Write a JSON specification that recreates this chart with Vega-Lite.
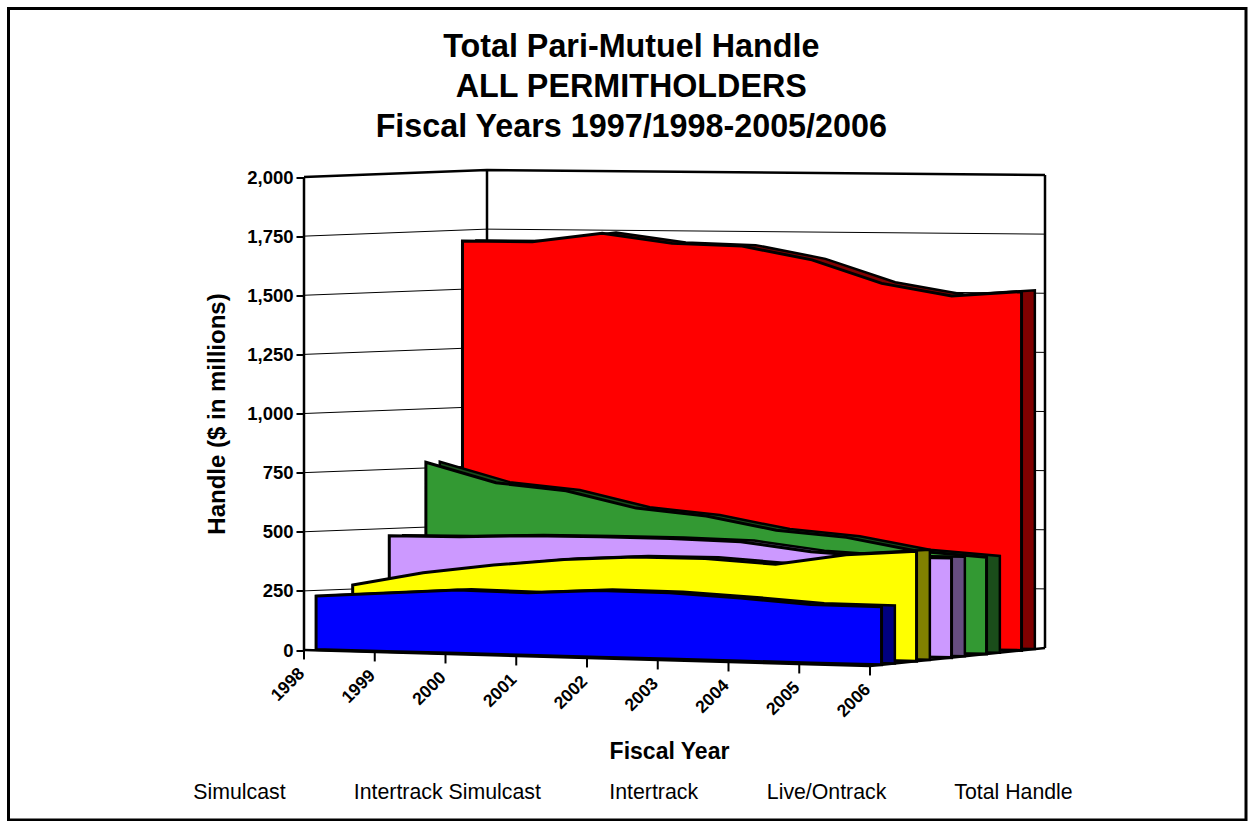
{"$schema":"https://vega.github.io/schema/vega-lite/v6.json","autosize":{"type":"none"},"padding":{"left":8.5,"top":8.5,"right":2,"bottom":1},"width":1237.5,"height":811.5,"background":"white","config":{"font":"Liberation Sans","view":{"stroke":"black","strokeWidth":3}},"title":{"text":["Total Pari-Mutuel Handle","ALL PERMITHOLDERS","Fiscal Years 1997/1998-2005/2006"],"font":"Liberation Sans","fontSize":32.3,"fontWeight":"bold","color":"black","anchor":"middle","frame":"group","lineHeight":40,"dx":4,"offset":-135},"data":{"values":[
{"series":"Total Handle","year":1998,"handle":1704},{"series":"Total Handle","year":1999,"handle":1704},{"series":"Total Handle","year":2000,"handle":1743},{"series":"Total Handle","year":2001,"handle":1704},{"series":"Total Handle","year":2002,"handle":1696},{"series":"Total Handle","year":2003,"handle":1641},{"series":"Total Handle","year":2004,"handle":1545},{"series":"Total Handle","year":2005,"handle":1495},{"series":"Total Handle","year":2006,"handle":1517},
{"series":"Live/Ontrack","year":1998,"handle":774},{"series":"Live/Ontrack","year":1999,"handle":692},{"series":"Live/Ontrack","year":2000,"handle":663},{"series":"Live/Ontrack","year":2001,"handle":594},{"series":"Live/Ontrack","year":2002,"handle":565},{"series":"Live/Ontrack","year":2003,"handle":510},{"series":"Live/Ontrack","year":2004,"handle":484},{"series":"Live/Ontrack","year":2005,"handle":431},{"series":"Live/Ontrack","year":2006,"handle":409},
{"series":"Intertrack","year":1998,"handle":469},{"series":"Intertrack","year":1999,"handle":471},{"series":"Intertrack","year":2000,"handle":481},{"series":"Intertrack","year":2001,"handle":482},{"series":"Intertrack","year":2002,"handle":481},{"series":"Intertrack","year":2003,"handle":473},{"series":"Intertrack","year":2004,"handle":436},{"series":"Intertrack","year":2005,"handle":420},{"series":"Intertrack","year":2006,"handle":421},
{"series":"Intertrack Simulcast","year":1998,"handle":267},{"series":"Intertrack Simulcast","year":1999,"handle":326},{"series":"Intertrack Simulcast","year":2000,"handle":365},{"series":"Intertrack Simulcast","year":2001,"handle":396},{"series":"Intertrack Simulcast","year":2002,"handle":413},{"series":"Intertrack Simulcast","year":2003,"handle":414},{"series":"Intertrack Simulcast","year":2004,"handle":396},{"series":"Intertrack Simulcast","year":2005,"handle":443},{"series":"Intertrack Simulcast","year":2006,"handle":465},
{"series":"Simulcast","year":1998,"handle":226},{"series":"Simulcast","year":1999,"handle":247},{"series":"Simulcast","year":2000,"handle":268},{"series":"Simulcast","year":2001,"handle":264},{"series":"Simulcast","year":2002,"handle":282},{"series":"Simulcast","year":2003,"handle":280},{"series":"Simulcast","year":2004,"handle":266},{"series":"Simulcast","year":2005,"handle":247},{"series":"Simulcast","year":2006,"handle":245},
{"edge":"grid250","year":1998,"depth":0,"handle":250},{"edge":"grid250","year":1998,"depth":5,"handle":250},{"edge":"grid250","year":2006,"depth":5,"handle":250},
{"edge":"grid500","year":1998,"depth":0,"handle":500},{"edge":"grid500","year":1998,"depth":5,"handle":500},{"edge":"grid500","year":2006,"depth":5,"handle":500},
{"edge":"grid750","year":1998,"depth":0,"handle":750},{"edge":"grid750","year":1998,"depth":5,"handle":750},{"edge":"grid750","year":2006,"depth":5,"handle":750},
{"edge":"grid1000","year":1998,"depth":0,"handle":1000},{"edge":"grid1000","year":1998,"depth":5,"handle":1000},{"edge":"grid1000","year":2006,"depth":5,"handle":1000},
{"edge":"grid1250","year":1998,"depth":0,"handle":1250},{"edge":"grid1250","year":1998,"depth":5,"handle":1250},{"edge":"grid1250","year":2006,"depth":5,"handle":1250},
{"edge":"grid1500","year":1998,"depth":0,"handle":1500},{"edge":"grid1500","year":1998,"depth":5,"handle":1500},{"edge":"grid1500","year":2006,"depth":5,"handle":1500},
{"edge":"grid1750","year":1998,"depth":0,"handle":1750},{"edge":"grid1750","year":1998,"depth":5,"handle":1750},{"edge":"grid1750","year":2006,"depth":5,"handle":1750},
{"edge":"top","year":1998,"depth":0,"handle":2000},{"edge":"top","year":1998,"depth":5,"handle":2000},{"edge":"top","year":2006,"depth":5,"handle":2000},
{"edge":"left","year":1998,"depth":0,"handle":0},{"edge":"left","year":1998,"depth":0,"handle":2000},
{"edge":"backleft","year":1998,"depth":5,"handle":0},{"edge":"backleft","year":1998,"depth":5,"handle":2000},
{"edge":"backright","year":2006,"depth":5,"handle":0},{"edge":"backright","year":2006,"depth":5,"handle":2000},
{"edge":"floorfront","year":1998,"depth":0,"handle":0},{"edge":"floorfront","year":2006,"depth":0,"handle":0},
{"edge":"floorside","year":2006,"depth":0,"handle":0},{"edge":"floorside","year":2006,"depth":5,"handle":0}
]},
"transform":[
{"calculate":"datum.year-1998","as":"t"},
{"calculate":"datum.series ? indexof(['Simulcast','Intertrack Simulcast','Intertrack','Live/Ontrack','Total Handle'],datum.series)+0.33 : datum.depth","as":"d"},
{"calculate":"datum.year+datum.d*(36.6-0.2*datum.t)/70.75","as":"px"},
{"calculate":"(datum.d*(1.4+0.275*datum.t)-2*datum.t)/0.2365","as":"py0"},
{"calculate":"datum.py0+datum.handle","as":"py"},
{"calculate":"datum.year+(datum.d+0.38)*(36.6-0.2*datum.t)/70.75","as":"bx"},
{"calculate":"((datum.d+0.38)*(1.4+0.275*datum.t)-2*datum.t)/0.2365","as":"by0"},
{"calculate":"datum.by0+datum.handle","as":"by"},
{"calculate":"-2*datum.t/0.2365","as":"fy"},
{"calculate":"datum.fy-40","as":"fy2"}
],
"encoding":{
"x":{"field":"px","type":"quantitative","scale":{"domain":[1993.8233,2011.3145],"nice":false,"zero":false},"axis":{"labels":false,"ticks":false,"domain":false,"grid":false,"title":"Fiscal Year","titleFont":"Liberation Sans","titleFontSize":23,"titleFontWeight":"bold","titleColor":"black","titleX":660.5,"titleY":-69,"titleAlign":"center","titleBaseline":"middle"}},
"y":{"field":"py","type":"quantitative","scale":{"domain":[-718.8,2712.5],"nice":false,"zero":false},"axis":{"values":[0,250,500,750,1000,1250,1500,1750,2000],"format":",d","offset":-295.5,"domain":false,"grid":false,"tickSize":8,"tickWidth":2,"tickColor":"black","labelFont":"Liberation Sans","labelFontSize":18.5,"labelFontWeight":"bold","labelColor":"black","labelPadding":3,"title":"Handle ($ in millions)","titleFont":"Liberation Sans","titleFontSize":24,"titleFontWeight":"bold","titleColor":"black","titleAngle":-90,"titleAlign":"center","titleBaseline":"middle","titleX":-87,"titleY":405}}
},
"layer":[
{"transform":[{"filter":"datum.edge && indexof(datum.edge,'grid')==0"}],"mark":{"type":"line","stroke":"black","strokeWidth":1},"encoding":{"detail":{"field":"edge"}}},
{"transform":[{"filter":"datum.edge && indexof(datum.edge,'grid')!=0"}],"mark":{"type":"line","stroke":"black","strokeWidth":2.5},"encoding":{"detail":{"field":"edge"}}},
{"transform":[{"filter":"datum.series=='Total Handle'"}],"mark":{"type":"area","fill":"#800000","stroke":"black","strokeWidth":2.5},"encoding":{"x":{"field":"bx","type":"quantitative"},"y":{"field":"by","type":"quantitative"},"y2":{"field":"by0"}}},
{"transform":[{"filter":"datum.series=='Total Handle'"}],"mark":{"type":"area","stroke":"black","strokeWidth":3},"encoding":{"y2":{"field":"py0"},"color":{"field":"series","type":"nominal","scale":{"domain":["Simulcast","Intertrack Simulcast","Intertrack","Live/Ontrack","Total Handle"],"range":["#0000FF","#FFFF00","#CC99FF","#339933","#FF0000"]},"legend":{"orient":"none","legendX":163.5,"legendY":774,"direction":"horizontal","columns":5,"gridAlign":"none","title":null,"symbolSize":1,"symbolOpacity":0,"symbolStrokeWidth":0,"labelOffset":0,"columnPadding":46.5,"labelFont":"Liberation Sans","labelFontSize":21.3,"labelColor":"black","labelLimit":400}}}},
{"transform":[{"filter":"datum.series=='Live/Ontrack'"}],"mark":{"type":"area","fill":"#1A4D1A","stroke":"black","strokeWidth":2.5},"encoding":{"x":{"field":"bx","type":"quantitative"},"y":{"field":"by","type":"quantitative"},"y2":{"field":"by0"}}},
{"transform":[{"filter":"datum.series=='Live/Ontrack'"}],"mark":{"type":"area","stroke":"black","strokeWidth":3},"encoding":{"y2":{"field":"py0"},"color":{"field":"series","type":"nominal"}}},
{"transform":[{"filter":"datum.series=='Intertrack'"}],"mark":{"type":"area","fill":"#664D80","stroke":"black","strokeWidth":2.5},"encoding":{"x":{"field":"bx","type":"quantitative"},"y":{"field":"by","type":"quantitative"},"y2":{"field":"by0"}}},
{"transform":[{"filter":"datum.series=='Intertrack'"}],"mark":{"type":"area","stroke":"black","strokeWidth":3},"encoding":{"y2":{"field":"py0"},"color":{"field":"series","type":"nominal"}}},
{"transform":[{"filter":"datum.series=='Intertrack Simulcast'"}],"mark":{"type":"area","fill":"#808000","stroke":"black","strokeWidth":2.5},"encoding":{"x":{"field":"bx","type":"quantitative"},"y":{"field":"by","type":"quantitative"},"y2":{"field":"by0"}}},
{"transform":[{"filter":"datum.series=='Intertrack Simulcast'"}],"mark":{"type":"area","stroke":"black","strokeWidth":3},"encoding":{"y2":{"field":"py0"},"color":{"field":"series","type":"nominal"}}},
{"transform":[{"filter":"datum.series=='Simulcast'"}],"mark":{"type":"area","fill":"#000080","stroke":"black","strokeWidth":2.5},"encoding":{"x":{"field":"bx","type":"quantitative"},"y":{"field":"by","type":"quantitative"},"y2":{"field":"by0"}}},
{"transform":[{"filter":"datum.series=='Simulcast'"}],"mark":{"type":"area","stroke":"black","strokeWidth":3},"encoding":{"y2":{"field":"py0"},"color":{"field":"series","type":"nominal"}}},
{"transform":[{"filter":"datum.series=='Simulcast'"}],"mark":{"type":"rule","stroke":"black","strokeWidth":2},"encoding":{"x":{"field":"year","type":"quantitative"},"y":{"field":"fy","type":"quantitative"},"y2":{"field":"fy2"}}},
{"transform":[{"filter":"datum.series=='Simulcast'"}],"mark":{"type":"text","angle":315,"align":"right","baseline":"middle","dx":-16.3,"dy":13.4,"font":"Liberation Sans","fontSize":17.5,"fontWeight":"bold","color":"black"},"encoding":{"x":{"field":"year","type":"quantitative"},"y":{"field":"fy","type":"quantitative"},"text":{"field":"year","type":"nominal"}}}
]}
